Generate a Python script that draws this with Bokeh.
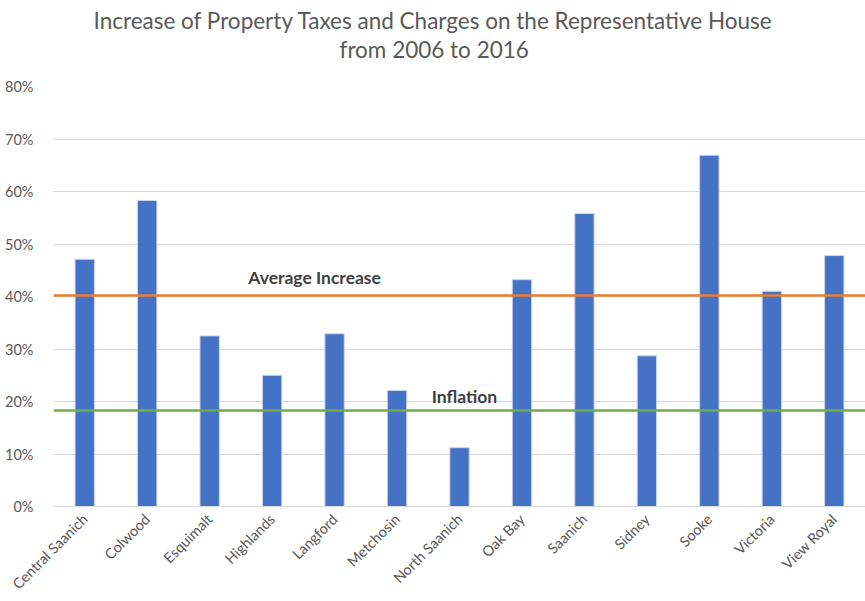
from bokeh.plotting import figure
from bokeh.models import Span, NumeralTickFormatter, FixedTicker, ColumnDataSource, Title
from bokeh.core.properties import value
from bokeh.embed import file_html
from bokeh.resources import INLINE
import math

municipalities = ["Central Saanich", "Colwood", "Esquimalt", "Highlands", "Langford",
                  "Metchosin", "North Saanich", "Oak Bay", "Saanich", "Sidney",
                  "Sooke", "Victoria", "View Royal"]
increase = [0.471, 0.583, 0.325, 0.250, 0.329, 0.221, 0.112, 0.432, 0.558, 0.287,
            0.669, 0.410, 0.478]
average_increase = 0.402
inflation = 0.183
y_ticks = [0, 0.1, 0.2, 0.3, 0.4, 0.5, 0.6, 0.7, 0.8]
title_lines = ["Increase of Property Taxes and Charges on the Representative House",
               "from 2006 to 2016"]

FONT = "Lato"
GRAY = "#595959"

p = figure(x_range=municipalities, y_range=(0, 0.8), width=865, height=601,
           output_backend="svg", toolbar_location=None, title=None,
           min_border_left=53, min_border_right=0, min_border_top=86, min_border_bottom=92)
p.outline_line_color = None

# spacer between the frame and the two title lines (innermost first)
p.add_layout(Title(text=" ", align="center", text_font=FONT, text_font_size="10px",
                   standoff=10), "above")
p.add_layout(Title(text=title_lines[1], align="left", offset=286, text_font=FONT,
                   text_font_size="22.5px", text_font_style="normal", text_color=GRAY,
                   standoff=0), "above")
p.add_layout(Title(text=title_lines[0], align="left", offset=40, text_font=FONT,
                   text_font_size="22.5px", text_font_style="normal", text_color=GRAY,
                   standoff=0), "above")

src = ColumnDataSource(dict(x=municipalities, top=increase))
p.vbar(x="x", top="top", width=0.31, source=src, fill_color="#4472C4",
       line_color="#C9D6EE", line_width=1)

p.add_layout(Span(location=average_increase, dimension="width",
                  line_color="#ED7D31", line_width=2.5))
p.add_layout(Span(location=inflation, dimension="width",
                  line_color="#70AD47", line_width=2.5))

p.text(x=[4.18], y=[0.437], text=["Average Increase"], text_font=value(FONT),
       text_font_style="bold", text_font_size="17.5px", text_color="#404040",
       text_align="center", text_baseline="middle")
p.text(x=[6.58], y=[0.21], text=["Inflation"], text_font=value(FONT),
       text_font_style="bold", text_font_size="17.5px", text_color="#404040",
       text_align="center", text_baseline="middle")

p.yaxis.ticker = FixedTicker(ticks=y_ticks)
p.yaxis.formatter = NumeralTickFormatter(format="0%")
p.yaxis.axis_line_color = None
p.yaxis.major_tick_line_color = None
p.yaxis.minor_tick_line_color = None
p.yaxis.major_label_text_font = FONT
p.yaxis.major_label_text_font_size = "14.5px"
p.yaxis.major_label_text_color = GRAY
p.yaxis.major_label_standoff = 14

p.xaxis.axis_line_color = "#D9D9D9"
p.xaxis.axis_line_width = 1
p.xaxis.major_tick_line_color = None
p.xaxis.minor_tick_line_color = None
p.xaxis.major_label_orientation = math.pi / 4
p.xaxis.major_label_text_font = FONT
p.xaxis.major_label_text_font_size = "14.5px"
p.xaxis.major_label_text_color = GRAY
p.xaxis.major_label_standoff = 4

p.xgrid.grid_line_color = None
p.ygrid.grid_line_color = "#D9D9D9"
p.ygrid.grid_line_width = 1

open("out.html", "w").write(file_html(p, INLINE))
